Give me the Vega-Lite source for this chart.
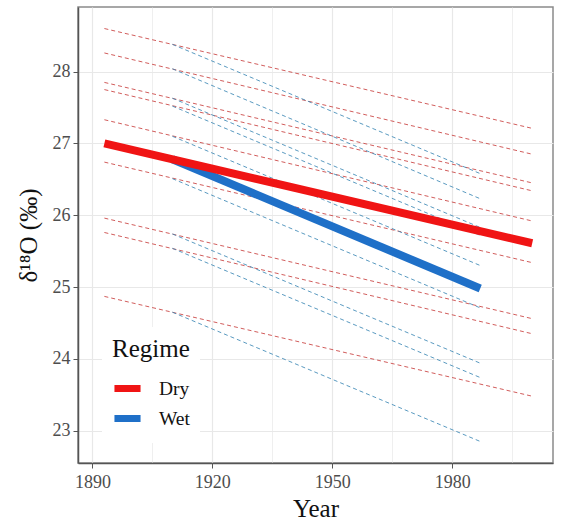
{
  "$schema": "https://vega.github.io/schema/vega-lite/v6.json",
  "autosize": "none",
  "width": 475,
  "height": 456,
  "padding": {"left": 78, "top": 7, "right": 11, "bottom": 63},
  "background": "white",
  "config": {
    "font": "Liberation Serif",
    "view": {"stroke": "#8a8a8a", "strokeWidth": 1.5},
    "legend": {
      "titleFont": "Liberation Serif",
      "titleFontSize": 25,
      "titleFontWeight": "normal",
      "titleColor": "#111",
      "labelFont": "Liberation Serif",
      "labelFontSize": 19.5,
      "labelColor": "#111"
    }
  },
  "data": {
    "values": [
      {"series": "S1 Dry", "regime": "Dry", "year": 1893, "d18O": 28.60},
      {"series": "S1 Dry", "regime": "Dry", "year": 2000, "d18O": 27.21},
      {"series": "S2 Dry", "regime": "Dry", "year": 1893, "d18O": 28.26},
      {"series": "S2 Dry", "regime": "Dry", "year": 2000, "d18O": 26.85},
      {"series": "S3 Dry", "regime": "Dry", "year": 1893, "d18O": 27.85},
      {"series": "S3 Dry", "regime": "Dry", "year": 2000, "d18O": 26.45},
      {"series": "S4 Dry", "regime": "Dry", "year": 1893, "d18O": 27.75},
      {"series": "S4 Dry", "regime": "Dry", "year": 2000, "d18O": 26.34},
      {"series": "S5 Dry", "regime": "Dry", "year": 1893, "d18O": 27.33},
      {"series": "S5 Dry", "regime": "Dry", "year": 2000, "d18O": 25.92},
      {"series": "S6 Dry", "regime": "Dry", "year": 1893, "d18O": 26.74},
      {"series": "S6 Dry", "regime": "Dry", "year": 2000, "d18O": 25.34},
      {"series": "S7 Dry", "regime": "Dry", "year": 1893, "d18O": 25.96},
      {"series": "S7 Dry", "regime": "Dry", "year": 2000, "d18O": 24.56},
      {"series": "S8 Dry", "regime": "Dry", "year": 1893, "d18O": 25.76},
      {"series": "S8 Dry", "regime": "Dry", "year": 2000, "d18O": 24.35},
      {"series": "S9 Dry", "regime": "Dry", "year": 1893, "d18O": 24.87},
      {"series": "S9 Dry", "regime": "Dry", "year": 2000, "d18O": 23.48},
      {"series": "S1 Wet", "regime": "Wet", "year": 1910, "d18O": 28.38},
      {"series": "S1 Wet", "regime": "Wet", "year": 1987, "d18O": 26.58},
      {"series": "S2 Wet", "regime": "Wet", "year": 1910, "d18O": 28.04},
      {"series": "S2 Wet", "regime": "Wet", "year": 1987, "d18O": 26.23},
      {"series": "S3 Wet", "regime": "Wet", "year": 1910, "d18O": 27.63},
      {"series": "S3 Wet", "regime": "Wet", "year": 1987, "d18O": 25.83},
      {"series": "S4 Wet", "regime": "Wet", "year": 1910, "d18O": 27.52},
      {"series": "S4 Wet", "regime": "Wet", "year": 1987, "d18O": 25.72},
      {"series": "S5 Wet", "regime": "Wet", "year": 1910, "d18O": 27.10},
      {"series": "S5 Wet", "regime": "Wet", "year": 1987, "d18O": 25.30},
      {"series": "S6 Wet", "regime": "Wet", "year": 1910, "d18O": 26.51},
      {"series": "S6 Wet", "regime": "Wet", "year": 1987, "d18O": 24.71},
      {"series": "S7 Wet", "regime": "Wet", "year": 1910, "d18O": 25.74},
      {"series": "S7 Wet", "regime": "Wet", "year": 1987, "d18O": 23.94},
      {"series": "S8 Wet", "regime": "Wet", "year": 1910, "d18O": 25.54},
      {"series": "S8 Wet", "regime": "Wet", "year": 1987, "d18O": 23.74},
      {"series": "S9 Wet", "regime": "Wet", "year": 1910, "d18O": 24.65},
      {"series": "S9 Wet", "regime": "Wet", "year": 1987, "d18O": 22.85},
      {"series": "Mean Dry", "regime": "Dry", "year": 1893, "d18O": 27.00},
      {"series": "Mean Dry", "regime": "Dry", "year": 2000, "d18O": 25.61},
      {"series": "Mean Wet", "regime": "Wet", "year": 1910, "d18O": 26.78},
      {"series": "Mean Wet", "regime": "Wet", "year": 1987, "d18O": 24.98}
    ]
  },
  "encoding": {
    "x": {
      "field": "year", "type": "quantitative",
      "scale": {"domain": [1886.4, 2005.2], "nice": false, "zero": false},
      "axis": {
        "title": "Year",
        "format": "d",
        "values": [1890, 1905, 1920, 1935, 1950, 1965, 1980, 1995],
        "labelExpr": "datum.value % 30 == 0 ? datum.label : ''",
        "labelFont": "Liberation Serif",
        "labelFontSize": 18,
        "labelColor": "#4d4d4d",
        "titleFont": "Liberation Serif",
        "titleFontSize": 25,
        "titleFontWeight": "normal",
        "titleColor": "#111",
        "domainColor": "#555",
        "domainWidth": 1.5,
        "tickColor": "#555",
        "tickSize": 5,
        "gridColor": "#e8e8e8",
        "tickOpacity": {"condition": {"test": "datum.value % 30 == 0", "value": 1}, "value": 0},
        "gridWidth": {"condition": {"test": "datum.value % 30 == 0", "value": 1.2}, "value": 0.7},
        "titlePadding": 5,
        "labelPadding": 5
      }
    },
    "y": {
      "field": "d18O", "type": "quantitative",
      "scale": {"domain": [22.55, 28.9], "nice": false, "zero": false},
      "axis": {
        "title": "δ¹⁸O (‰)",
        "format": "d",
        "values": [23, 23.5, 24, 24.5, 25, 25.5, 26, 26.5, 27, 27.5, 28, 28.5],
        "labelExpr": "datum.value % 1 == 0 ? datum.label : ''",
        "labelFont": "Liberation Serif",
        "labelFontSize": 18,
        "labelColor": "#4d4d4d",
        "titleFont": "Liberation Serif",
        "titleFontSize": 25,
        "titleFontWeight": "normal",
        "titleColor": "#111",
        "domainColor": "#555",
        "domainWidth": 1.5,
        "tickColor": "#555",
        "tickSize": 5,
        "gridColor": "#e8e8e8",
        "tickOpacity": {"condition": {"test": "datum.value % 1 == 0", "value": 1}, "value": 0},
        "gridWidth": {"condition": {"test": "datum.value % 1 == 0", "value": 1.2}, "value": 0.7},
        "titlePadding": 11,
        "labelPadding": 3
      }
    },
    "detail": {"field": "series"}
  },
  "layer": [
    {
      "transform": [{"filter": "indexof(datum.series, 'Mean') < 0"}],
      "mark": {"type": "line", "strokeWidth": 1, "strokeDash": [4, 3], "opacity": 0.85},
      "encoding": {
        "stroke": {"condition": {"test": "datum.regime == 'Dry'", "value": "#c9413f"}, "value": "#3d88b5"}
      }
    },
    {
      "transform": [{"filter": "datum.series == 'Mean Wet'"}],
      "mark": {"type": "line", "strokeWidth": 8, "strokeCap": "butt"},
      "encoding": {
        "color": {
          "field": "regime", "type": "nominal",
          "scale": {"domain": ["Dry", "Wet"], "range": ["#f01414", "#1f70c8"]},
          "legend": {
            "title": "Regime",
            "orient": "none",
            "legendX": 24,
            "legendY": 320,
            "fillColor": "white",
            "padding": 10,
            "titleFont": "Liberation Serif",
            "titleFontSize": 25,
            "titleFontWeight": "normal",
            "titleColor": "#111",
            "titlePadding": 14,
            "labelFont": "Liberation Serif",
            "labelFontSize": 19.5,
            "labelColor": "#111",
            "labelOffset": 19,
            "symbolType": "M-1.45,0H1.45",
            "symbolSize": 324,
            "symbolStrokeWidth": 7,
            "rowPadding": 1,
            "symbolOffset": 3
          }
        }
      }
    },
    {
      "transform": [{"filter": "datum.series == 'Mean Dry'"}],
      "mark": {"type": "line", "strokeWidth": 8, "strokeCap": "butt"},
      "encoding": {
        "color": {"field": "regime", "type": "nominal"}
      }
    }
  ]
}
